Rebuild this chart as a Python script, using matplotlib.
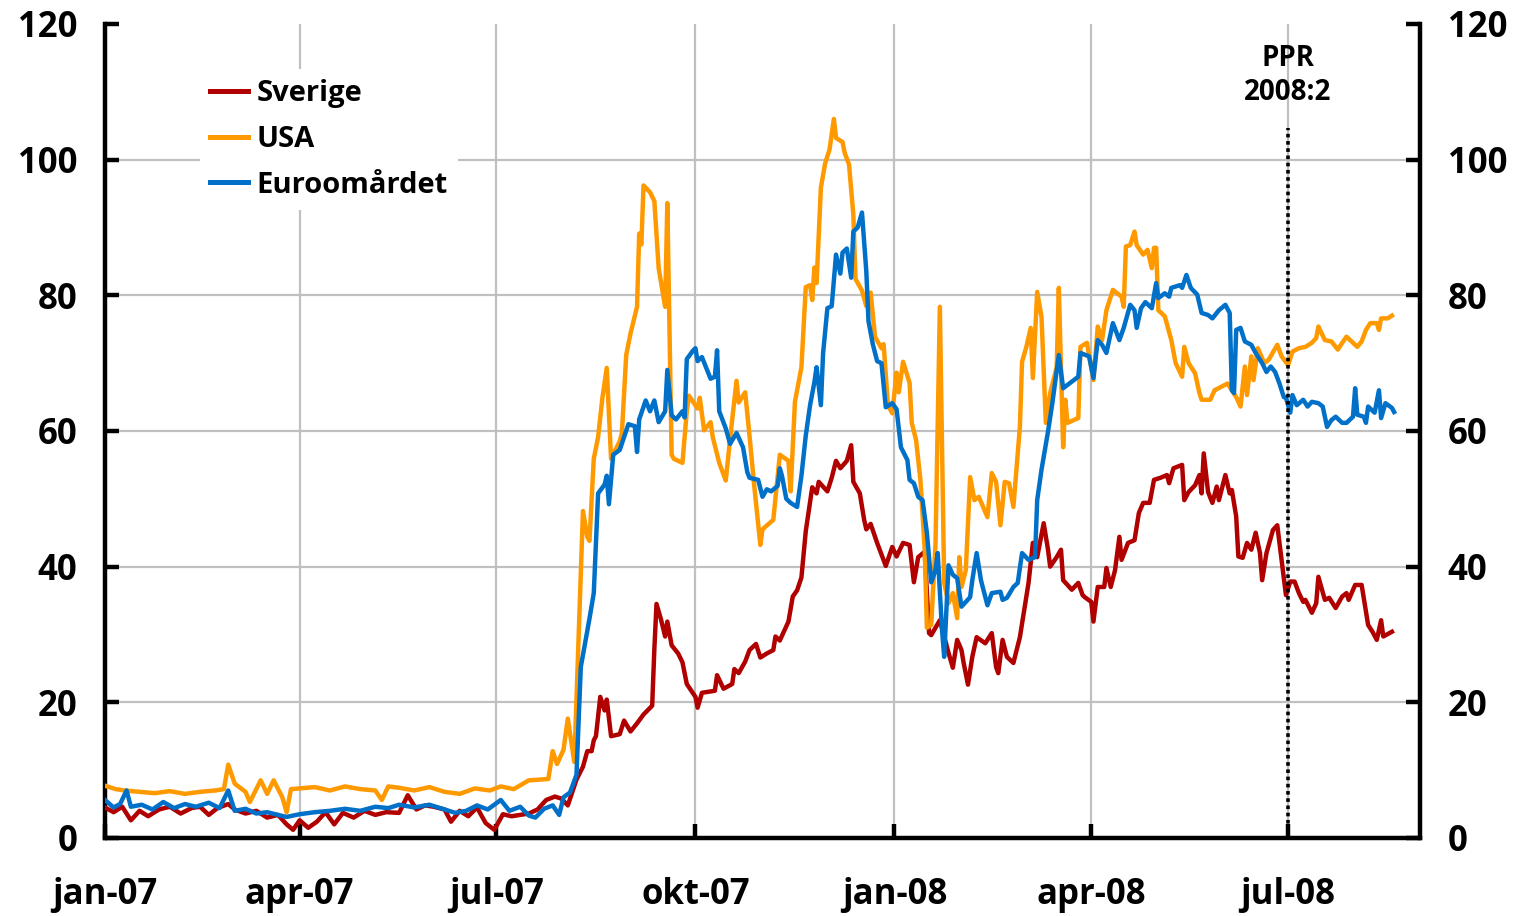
import matplotlib
matplotlib.use("Agg")
import matplotlib.pyplot as plt
import pandas as pd

# dagar efter 2007-01-01 och värden (punkter)
sverige_dag = [0, 4, 8, 12, 16, 20, 25, 30, 35, 40, 44, 48, 52, 57, 60, 65, 70, 75, 80, 84,
               87, 90, 94, 98, 102, 106, 110, 115, 120, 125, 130, 136, 140, 144, 148, 152, 157, 160, 164, 168,
               172, 176, 180, 184, 188, 192, 196, 200, 204, 208, 211, 214, 218, 221, 223, 225, 226, 227, 229, 231,
               232, 234, 238, 240, 243, 246, 249, 253, 254, 255, 257, 259, 260, 262, 265, 267, 269, 273, 274, 276,
               282, 283, 286, 290, 291, 293, 296, 298, 301, 303, 306, 309, 310, 312, 314, 316, 318, 320, 322, 324,
               327, 329, 330, 334, 336, 338, 340, 343, 345, 346, 349, 351, 352, 354, 357, 359, 361, 364, 366, 369,
               372, 374, 376, 379, 381, 382, 386, 390, 392, 394, 396, 397, 399, 401, 403, 407, 410, 412, 413, 415,
               417, 420, 423, 425, 427, 429, 431, 434, 436, 437, 440, 442, 443, 447, 450, 452, 453, 456, 457, 459,
               462, 463, 465, 467, 469, 470, 473, 476, 478, 480, 483, 485, 488, 491, 492, 494, 498, 499, 501, 504,
               506, 507, 508, 510, 512, 514, 515, 518, 520, 521, 523, 524, 526, 528, 530, 532, 534, 535, 537, 540,
               542, 543, 546, 548, 550, 552, 554, 555, 558, 560, 561, 564, 566, 569, 572, 574, 575, 578, 581, 584,
               586, 588, 590, 591, 595]
sverige = [4.5, 3.8, 4.6, 2.6, 4.0, 3.2, 4.2, 4.6, 3.6, 4.4, 4.6, 3.4, 4.4, 5.0, 4.2, 3.6, 4.0, 3.0, 3.4, 2.0,
           1.2, 2.6, 1.5, 2.4, 3.8, 2.0, 3.7, 3.0, 4.0, 3.4, 3.8, 3.7, 6.3, 4.2, 4.8, 4.6, 4.2, 2.4, 4.0, 3.2,
           4.5, 2.2, 1.2, 3.5, 3.2, 3.4, 3.6, 4.2, 5.6, 6.1, 5.8, 4.8, 8.6, 10.5, 12.8, 12.8, 14.4, 15.0, 20.8, 18.8,
           20.4, 15.0, 15.3, 17.3, 15.7, 16.9, 18.2, 19.5, 27.8, 34.5, 32.3, 29.7, 31.9, 28.4, 27.2, 25.9, 22.7, 20.8, 19.2, 21.4,
           21.7, 24.0, 22.0, 22.7, 24.9, 24.3, 26.0, 27.7, 28.6, 26.6, 27.2, 27.7, 29.7, 29.1, 30.5, 31.9, 35.6, 36.5, 38.4, 45.2,
           51.7, 50.8, 52.5, 51.1, 53.1, 55.6, 54.5, 55.6, 57.9, 52.5, 50.8, 46.9, 45.5, 46.3, 43.5, 41.8, 40.1, 42.9, 41.5, 43.5,
           43.2, 37.7, 41.4, 42.2, 30.2, 29.9, 32.1, 27.3, 25.1, 29.2, 27.7, 25.8, 22.6, 26.7, 29.6, 28.7, 30.2, 25.2, 24.3, 29.2,
           26.7, 25.8, 29.6, 33.6, 37.6, 43.5, 41.4, 46.4, 42.5, 40.0, 41.4, 42.5, 38.0, 36.6, 37.6, 35.8, 35.5, 34.8, 31.9, 37.0,
           37.0, 39.8, 37.0, 39.5, 44.4, 41.0, 43.5, 43.9, 47.9, 49.4, 49.4, 52.8, 53.1, 53.5, 52.3, 54.5, 55.0, 49.8, 51.0, 52.0,
           53.5, 50.8, 56.7, 51.0, 49.4, 51.8, 49.8, 53.5, 50.8, 51.3, 47.4, 41.5, 41.3, 43.5, 42.5, 45.0, 42.0, 38.0, 42.0, 45.4,
           46.1, 43.5, 35.8, 37.8, 37.8, 36.1, 34.8, 35.1, 33.2, 34.6, 38.5, 35.1, 35.4, 33.9, 35.6, 36.1, 35.1, 37.3, 37.3, 31.4,
           30.4, 29.2, 32.1, 29.7, 30.4]

usa_dag = [0, 5, 9, 16, 23, 30, 37, 44, 51, 55, 57, 60, 65, 67, 72, 75, 78, 82, 84, 86,
           90, 97, 104, 111, 118, 125, 128, 131, 136, 143, 150, 157, 164, 171, 178, 183, 189, 196, 201, 205,
           207, 209, 212, 214, 217, 221, 223, 224, 226, 228, 230, 232, 234, 238, 239, 241, 243, 246, 247, 248,
           249, 252, 254, 256, 259, 260, 262, 263, 267, 269, 270, 274, 275, 277, 280, 281, 284, 287, 290, 292,
           293, 296, 298, 300, 303, 304, 309, 312, 316, 317, 319, 322, 324, 326, 327, 328, 329, 331, 333, 335,
           337, 338, 341, 342, 344, 346, 347, 350, 352, 354, 356, 359, 360, 362, 364, 366, 367, 369, 372, 373,
           375, 377, 379, 380, 382, 384, 386, 388, 390, 392, 394, 395, 396, 398, 400, 402, 404, 408, 410, 412,
           414, 416, 418, 420, 423, 424, 426, 428, 429, 431, 433, 435, 437, 440, 441, 443, 444, 445, 450, 451,
           454, 457, 459, 461, 463, 466, 470, 471, 472, 474, 476, 477, 480, 482, 484, 485, 486, 487, 490, 493,
           495, 498, 499, 501, 504, 506, 507, 511, 513, 516, 519, 521, 523, 525, 527, 528, 530, 531, 533, 536,
           538, 542, 544, 547, 549, 552, 555, 558, 560, 561, 564, 567, 570, 572, 574, 577, 579, 581, 583, 585,
           588, 589, 590, 593, 595]
usa = [7.7, 7.2, 7.0, 6.8, 6.6, 6.9, 6.5, 6.8, 7.0, 7.2, 10.8, 8.0, 6.8, 5.3, 8.5, 6.5, 8.5, 6.0, 3.8, 7.2,
       7.3, 7.5, 7.0, 7.6, 7.2, 7.0, 5.6, 7.6, 7.4, 7.0, 7.5, 6.8, 6.5, 7.3, 7.0, 7.6, 7.2, 8.5, 8.6, 8.7,
       12.8, 10.9, 13.0, 17.6, 11.2, 48.2, 44.4, 43.8, 55.9, 59.1, 64.9, 69.3, 55.9, 58.5, 59.7, 71.2, 74.4, 78.3, 89.1, 87.5,
       96.2, 95.2, 93.9, 84.0, 78.3, 93.6, 56.5, 55.9, 55.3, 62.9, 65.2, 63.3, 64.9, 60.1, 61.3, 59.1, 55.3, 52.7, 61.7, 67.4,
       64.2, 65.7, 59.3, 52.5, 43.2, 45.5, 46.9, 56.5, 55.6, 51.1, 64.3, 69.4, 81.2, 81.5, 79.3, 84.1, 81.8, 95.9, 99.5, 101.5,
       106.0, 103.2, 102.6, 101.0, 99.3, 91.9, 82.4, 80.7, 78.4, 80.4, 73.9, 72.2, 72.8, 63.8, 62.6, 68.6, 65.7, 70.2, 67.1, 61.2,
       58.7, 52.8, 42.5, 31.0, 31.4, 43.5, 78.3, 37.6, 34.6, 36.1, 32.4, 41.4, 37.0, 39.5, 53.2, 49.8, 50.3, 47.3, 53.8, 52.5,
       46.1, 52.5, 52.3, 48.8, 60.6, 70.2, 72.4, 75.2, 67.8, 80.5, 76.8, 61.2, 65.6, 69.4, 81.1, 57.6, 64.6, 61.2, 61.9, 72.4,
       73.0, 67.5, 75.4, 73.4, 77.8, 80.8, 79.8, 78.3, 87.2, 87.4, 89.4, 87.4, 86.0, 86.7, 84.0, 87.0, 87.0, 77.8, 76.9, 73.4,
       70.0, 68.0, 72.4, 70.0, 68.5, 65.6, 64.6, 64.6, 66.0, 66.5, 67.0, 66.0, 65.0, 63.6, 69.5, 65.3, 71.0, 67.5, 72.2, 70.0,
       70.5, 72.7, 71.0, 69.7, 71.7, 72.2, 72.4, 73.0, 73.7, 75.4, 73.4, 73.2, 72.0, 73.0, 73.9, 73.0, 72.4, 73.2, 74.9, 75.9,
       75.9, 74.9, 76.6, 76.6, 77.0]

euro_dag = [0, 4, 7, 10, 12, 17, 22, 27, 32, 37, 42, 48, 53, 57, 60, 65, 70, 75, 80, 84,
            90, 97, 104, 111, 118, 125, 131, 136, 143, 150, 157, 162, 167, 172, 177, 183, 187, 192, 196, 199,
            203, 207, 210, 212, 215, 218, 220, 224, 226, 228, 231, 232, 233, 235, 238, 240, 242, 245, 246, 247,
            250, 252, 254, 256, 259, 260, 262, 264, 267, 268, 269, 272, 273, 274, 276, 280, 282, 283, 284, 287,
            289, 292, 295, 297, 298, 302, 304, 306, 308, 311, 312, 313, 315, 317, 320, 322, 324, 326, 328, 329,
            331, 332, 334, 336, 338, 340, 341, 343, 345, 346, 348, 350, 352, 353, 355, 357, 359, 361, 364, 366,
            368, 371, 372, 374, 376, 378, 380, 382, 384, 385, 387, 388, 390, 392, 394, 396, 400, 401, 403, 405,
            408, 410, 414, 415, 417, 420, 422, 424, 427, 430, 431, 433, 436, 438, 441, 443, 450, 451, 455, 457,
            459, 461, 463, 466, 469, 471, 474, 476, 477, 479, 481, 484, 486, 487, 490, 492, 493, 497, 498, 500,
            502, 505, 507, 510, 512, 515, 518, 520, 521, 522, 523, 525, 527, 530, 532, 535, 537, 539, 541, 543,
            545, 546, 548, 549, 551, 554, 556, 558, 561, 563, 565, 567, 569, 572, 574, 577, 578, 579, 582, 583,
            584, 587, 589, 590, 592, 595, 596]
euro = [5.6, 4.5, 5.0, 7.0, 4.6, 4.9, 4.2, 5.3, 4.4, 5.0, 4.6, 5.2, 4.4, 7.0, 4.0, 4.3, 3.6, 3.8, 3.4, 3.1,
        3.5, 3.8, 4.0, 4.3, 4.0, 4.6, 4.4, 4.9, 4.5, 4.9, 4.2, 3.7, 4.0, 4.8, 4.2, 5.6, 4.0, 4.6, 3.3, 3.0,
        4.3, 4.8, 3.4, 6.0, 6.7, 9.3, 25.2, 32.3, 36.1, 50.8, 52.1, 53.4, 49.2, 56.5, 57.2, 59.1, 61.0, 60.7, 56.9, 61.7,
        64.5, 62.9, 64.5, 61.3, 62.9, 69.0, 62.3, 61.7, 62.9, 62.0, 70.6, 71.9, 72.2, 70.3, 70.9, 67.7, 68.0, 71.9, 62.9, 60.4,
        58.1, 59.7, 57.6, 53.9, 53.1, 52.8, 50.3, 51.4, 51.1, 51.9, 54.5, 53.4, 50.0, 49.4, 48.8, 53.4, 59.3, 63.8, 67.2, 69.4,
        63.8, 71.4, 78.1, 78.4, 86.0, 83.2, 86.3, 86.9, 82.6, 89.4, 90.0, 92.2, 83.5, 76.2, 72.8, 70.3, 70.0, 63.5, 64.1, 63.2,
        57.6, 55.7, 52.8, 52.3, 50.3, 49.8, 45.0, 37.7, 39.5, 42.0, 30.7, 26.7, 40.2, 38.8, 38.3, 34.1, 35.5, 38.0, 42.0, 38.0,
        34.3, 36.1, 36.3, 35.1, 35.4, 37.0, 37.6, 42.0, 41.0, 41.4, 49.8, 54.3, 59.9, 64.1, 71.2, 66.3, 68.0, 71.5, 71.0, 67.8,
        73.4, 72.7, 71.5, 75.9, 73.4, 75.2, 78.6, 77.8, 75.2, 78.1, 79.0, 78.1, 81.8, 79.6, 80.3, 79.8, 81.1, 81.5, 81.1, 83.0,
        81.1, 80.1, 77.4, 77.1, 76.6, 77.8, 78.6, 77.4, 66.0, 65.6, 74.9, 75.2, 73.2, 72.7, 71.5, 70.0, 68.7, 69.5, 68.7, 67.0,
        65.0, 64.9, 62.7, 65.3, 63.8, 64.6, 63.6, 64.3, 64.1, 63.6, 60.6, 61.6, 62.1, 61.2, 61.2, 62.1, 66.3, 62.4, 62.1, 61.2,
        63.6, 62.7, 66.0, 61.9, 64.1, 63.4, 62.8]

tick_datum = ["2007-01-01", "2007-04-01", "2007-07-01", "2007-10-01",
              "2008-01-01", "2008-04-01", "2008-07-01"]
tick_text = ["jan-07", "apr-07", "jul-07", "okt-07", "jan-08", "apr-08", "jul-08"]
ppr_datum = "2008-07-01"

start = pd.Timestamp("2007-01-01")


def till_datum(dagar):
    return start + pd.to_timedelta(dagar, unit="D")


font = "Open Sans"
plt.rcParams["font.family"] = [font, "DejaVu Sans"]
plt.rcParams["font.weight"] = "bold"

fig = plt.figure(figsize=(15.23, 9.16), dpi=100)
ax = fig.add_axes([0.0689, 0.0852, 0.8635, 0.8886])

yt = list(range(0, 121, 20))
for v in yt[1:-1]:
    ax.axhline(v, color="#c0c0c0", lw=1.6, zorder=0)
for d in tick_datum[1:]:
    ax.axvline(pd.Timestamp(d), color="#c0c0c0", lw=1.6, zorder=0)

ax.plot(till_datum(sverige_dag), sverige, color="#b00000", lw=3.2, label="Sverige", zorder=3)
ax.plot(till_datum(usa_dag), usa, color="#ff9900", lw=3.2, label="USA", zorder=3)
ax.plot(till_datum(euro_dag), euro, color="#0070c8", lw=3.2, label="Euroomårdet", zorder=3)

ax.axvline(pd.Timestamp(ppr_datum), ymin=0, ymax=104.7 / 120, color="black",
           lw=2.6, ls=(0, (1, 1)), zorder=4)
ax.text(pd.Timestamp(ppr_datum), 112.4, "PPR\n2008:2", ha="center", va="center",
        fontsize=20, fontweight="bold", linespacing=1.2)

ax.set_xlim(pd.Timestamp("2007-01-01"), pd.Timestamp("2008-08-31"))
ax.set_ylim(0, 120)
ax.set_yticks(yt)
ax.set_xticks([pd.Timestamp(d) for d in tick_datum])
ax.set_xticklabels(tick_text)

for s in ["left", "right", "bottom"]:
    ax.spines[s].set_linewidth(3.2)
ax.spines["top"].set_visible(False)

ax.tick_params(axis="y", direction="in", length=10, width=3.2, labelsize=25,
               left=True, right=True, labelleft=True, labelright=True, pad=20)
ax.tick_params(axis="x", direction="in", length=10, width=3.2, labelsize=25, pad=28)
for lbl in ax.get_xticklabels() + ax.get_yticklabels():
    lbl.set_fontweight("bold")

leg = ax.legend(loc="upper left", bbox_to_anchor=(0.072, 0.9446), frameon=True,
                fancybox=False, framealpha=1, edgecolor="none", facecolor="white",
                fontsize=21, handlelength=1.3, handletextpad=0.3, labelspacing=0.57,
                borderpad=0.35, borderaxespad=0)
for t in leg.get_texts():
    t.set_fontweight("bold")
for h in leg.get_lines():
    h.set_linewidth(3.6)

fig.savefig("out.png", dpi=100)
